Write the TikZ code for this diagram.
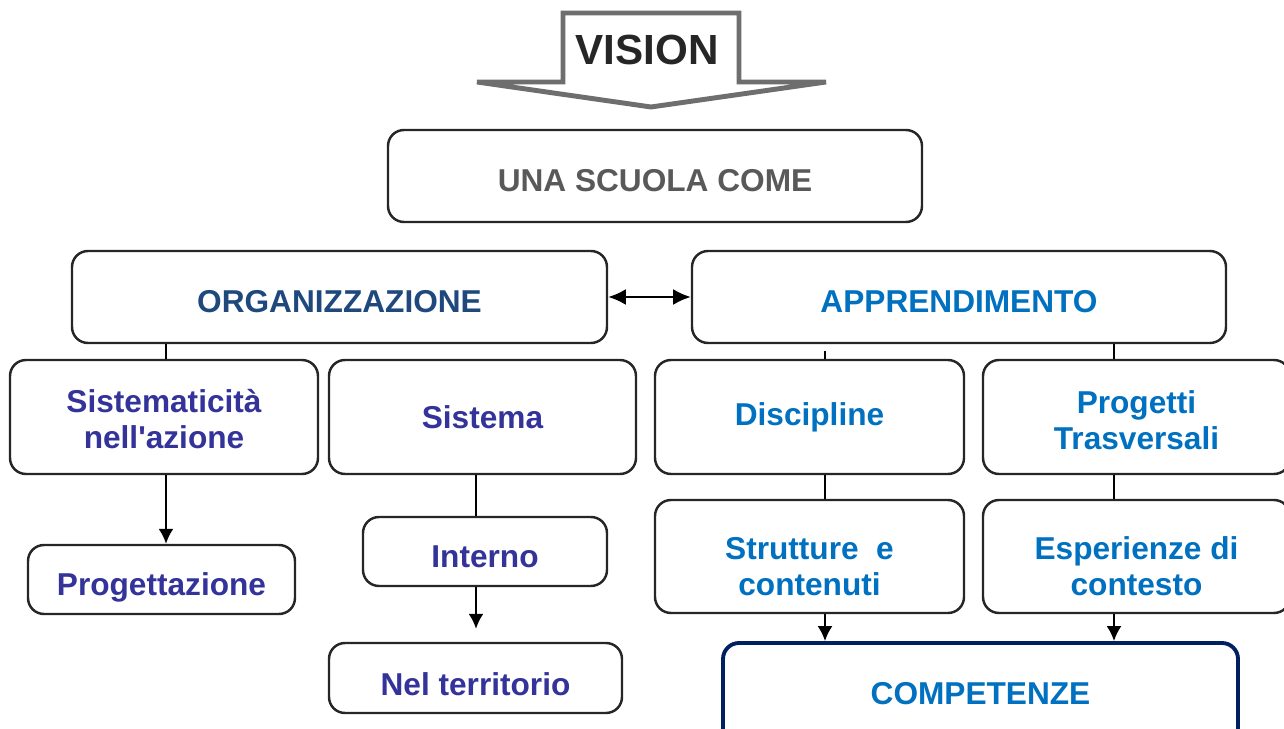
\documentclass[tikz,border=0pt]{standalone}
\usepackage{fontspec}
\setmainfont{Liberation Sans}
\usetikzlibrary{arrows.meta}
\definecolor{orgblue}{RGB}{31,73,125}
\definecolor{appblue}{RGB}{0,112,192}
\definecolor{subviolet}{RGB}{51,51,153}
\definecolor{boxline}{RGB}{38,38,38}
\definecolor{compnavy}{RGB}{0,32,96}
\definecolor{visiongray}{RGB}{110,110,110}
\definecolor{headgray}{RGB}{89,89,89}
\newcommand{\lift}[1]{\rule{0pt}{#1}}

\begin{document}
\begin{tikzpicture}[x=0.02cm,y=-0.02cm,
            box/.style={draw=boxline,line width=1.4pt,rounded corners=0.32cm,fill=white,align=center,inner sep=0pt,font=\fontsize{18}{20.5}\selectfont\bfseries},
            boxsize/.style 2 args={minimum width=#1*0.02cm,minimum height=#2*0.02cm},
            link/.style={line width=1.1pt},
            flow/.style={line width=1.1pt,-{Latex[length=8.5pt,width=8.5pt]}}]
            \useasboundingbox (0,0) rectangle (1284,729);

            \draw[visiongray,line width=2.8pt,fill=white] (477,82) -- (563,82) -- (563,13) -- (739,13) -- (739,82) -- (826,82) -- (651,107) -- cycle;
            \node[font=\fontsize{24}{28}\selectfont\bfseries,text=black!85] (vision) at (647,50) {VISION};

            \node[box,boxsize={534}{92},text=headgray] (scuola) at (655,176) {\lift{17.5pt}UNA SCUOLA COME};
            \node[box,boxsize={535}{92},text=orgblue] (org) at (339.5,297) {\lift{17.4pt}ORGANIZZAZIONE};
            \node[box,boxsize={534}{92},text=appblue] (app) at (959,297) {\lift{17.4pt}APPRENDIMENTO};

            \node[box,boxsize={308}{114},text=subviolet] (sistaz) at (164,417) {\lift{16pt}Sistematicità\\nell\textquotesingle azione};
            \node[box,boxsize={307}{114},text=subviolet] (sistema) at (482.5,417) {Sistema};
            \node[box,boxsize={309}{114},text=appblue] (disc) at (809.5,417) {Discipline};
            \node[box,boxsize={307}{114},text=appblue] (progtr) at (1136.5,417) {\lift{17pt}Progetti\\Trasversali};

            \node[box,boxsize={267}{69},text=subviolet] (proget) at (161.5,579.5) {\lift{22pt}Progettazione};
            \node[box,boxsize={244}{69},text=subviolet] (interno) at (485,551.5) {\lift{18.5pt}Interno};
            \node[box,boxsize={293}{70},text=subviolet] (terr) at (475.5,678) {\lift{19.7pt}Nel territorio};
            \node[box,boxsize={309}{113},text=appblue] (strut) at (809.5,556.5) {\lift{24.3pt}Strutture~~e\\contenuti};
            \node[box,boxsize={307}{113},text=appblue] (esper) at (1136.5,556.5) {\lift{24.3pt}Esperienze di\\contesto};
            \node[box,boxsize={515}{102},draw=compnavy,line width=2.2pt,text=appblue] (comp) at (980.5,694) {COMPETENZE};

            \coordinate (xa) at (166,0);
            \coordinate (xb) at (476,0);
            \coordinate (xc) at (825,0);
            \coordinate (xd) at (1114,0);

            \draw[line width=1.1pt,{Latex[length=10pt,width=9pt]}-{Latex[length=10pt,width=9pt]}] (org.east) -- (app.west);
            \draw[link] (org.south -| xa) -- (sistaz.north -| xa);
            \draw[flow] (sistaz.south -| xa) -- (proget.north -| xa);
            \draw[link] (sistema.south -| xb) -- (interno.north -| xb);
            \draw[flow,shorten >=0.26cm] (interno.south -| xb) -- (terr.north -| xb);
            \draw[link,shorten <=0.14cm] (app.south -| xc) -- (disc.north -| xc);
            \draw[link] (app.south -| xd) -- (progtr.north -| xd);
            \draw[link] (disc.south -| xc) -- (strut.north -| xc);
            \draw[link] (progtr.south -| xd) -- (esper.north -| xd);
            \draw[flow] (strut.south -| xc) -- (comp.north -| xc);
            \draw[flow] (esper.south -| xd) -- (comp.north -| xd);
        \end{tikzpicture}
\end{document}
